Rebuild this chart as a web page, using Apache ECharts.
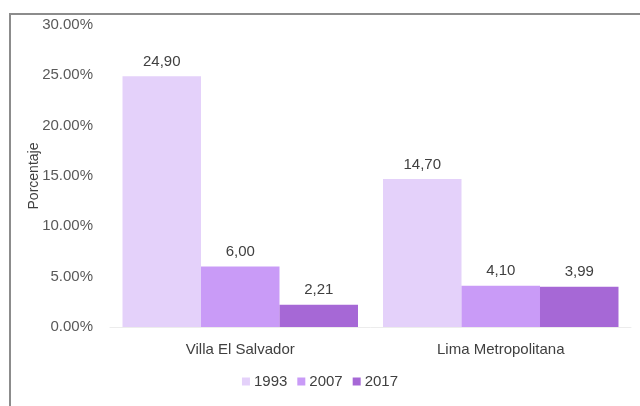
<!DOCTYPE html>
<html>
<head>
<meta charset="utf-8">
<script src="https://cdn.jsdelivr.net/npm/echarts@6/dist/echarts.min.js"></script>
<style>
  html, body { margin: 0; padding: 0; background: #fff; }
  #wrap { position: relative; width: 640px; height: 406px; }
  #chart { position: absolute; left: 0; top: 0; width: 640px; height: 406px; }
  #frame { position: absolute; left: 9px; top: 13px; width: 640px; height: 400px;
           border-left: 2px solid #8c8c8c; border-top: 2px solid #8c8c8c; pointer-events: none; }
</style>
</head>
<body>
<div id="wrap">
  <div id="chart"></div>
  <div id="frame"></div>
</div>
<script>
// Share of population by district and census year (percent)
const categories = ['Villa El Salvador', 'Lima Metropolitana'];
const years = ['1993', '2007', '2017'];
const values1993 = [24.90, 14.70];
const values2007 = [6.00, 4.10];
const values2017 = [2.21, 3.99];
const colors = ['#e4d1fa', '#c99bf7', '#a668d6'];

const font = 'Liberation Sans, Arial, sans-serif';
const seriesValues = [values1993, values2007, values2017];

const chart = echarts.init(document.getElementById('chart'));
chart.setOption({
  animation: false,
  textStyle: { fontFamily: font },
  grid: { left: 110, right: 9, top: 25, bottom: 79, containLabel: false },
  legend: {
    bottom: 12,
    left: 'center',
    itemWidth: 8,
    itemHeight: 8,
    itemGap: 10,
    icon: 'rect',
    textStyle: { fontFamily: font, fontSize: 15, color: '#404040', padding: [0, 0, 0, -1] },
    data: years
  },
  xAxis: {
    type: 'category',
    data: categories,
    axisLine: { show: true, lineStyle: { color: '#ececec', width: 1 } },
    axisTick: { show: false },
    axisLabel: { fontFamily: font, fontSize: 15, color: '#404040', margin: 15 }
  },
  yAxis: {
    type: 'value',
    min: 0,
    max: 30,
    interval: 5,
    name: 'Porcentaje',
    nameLocation: 'middle',
    nameRotate: 90,
    nameGap: 69,
    nameMoveOverlap: false,
    nameTextStyle: { fontFamily: font, fontSize: 14, color: '#404040' },
    axisLine: { show: false },
    axisTick: { show: false },
    splitLine: { show: false },
    axisLabel: {
      fontFamily: font, fontSize: 15, color: '#595959', margin: 17,
      formatter: v => v.toFixed(2) + '%'
    }
  },
  series: years.map((y, i) => ({
    name: y,
    type: 'bar',
    data: seriesValues[i],
    barGap: '0%',
    barCategoryGap: '9.6%',
    itemStyle: { color: colors[i] },
    label: {
      show: true,
      position: 'top',
      distance: 7,
      fontFamily: font,
      fontSize: 15,
      color: '#404040',
      formatter: p => p.value.toFixed(2).replace('.', ',')
    }
  }))
});
</script>
</body>
</html>
